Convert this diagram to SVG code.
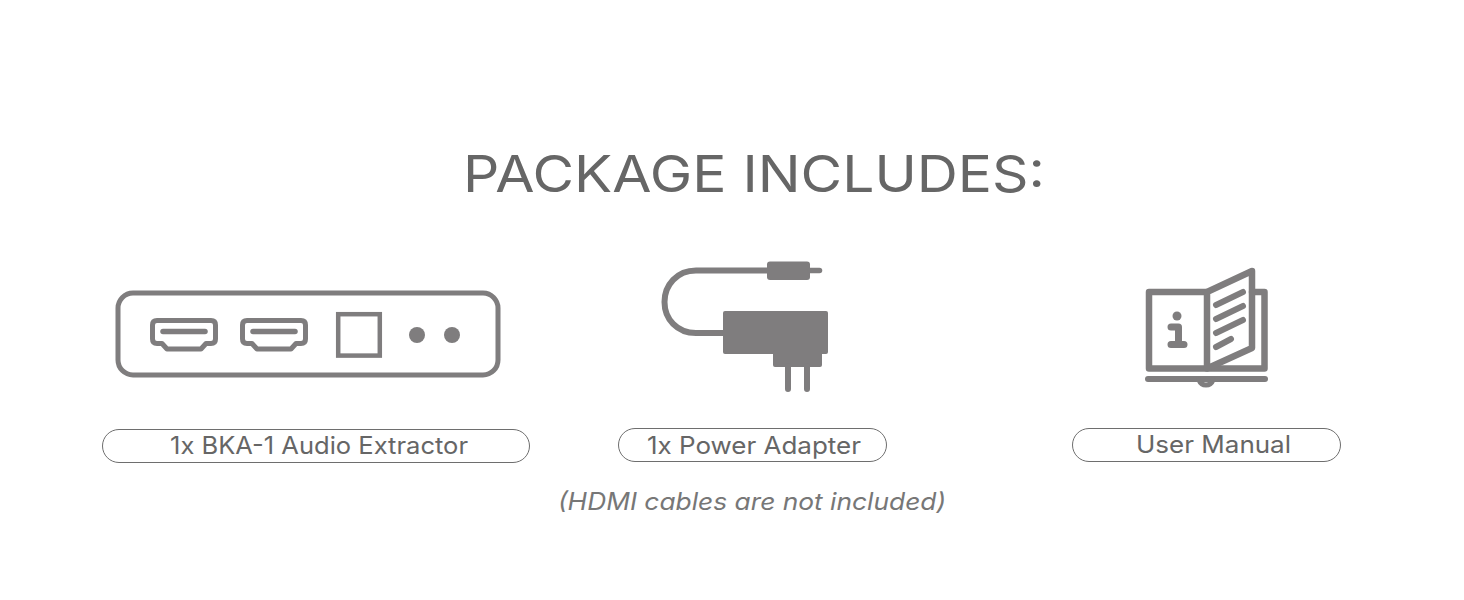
<svg xmlns="http://www.w3.org/2000/svg" width="1464" height="600" viewBox="0 0 1464 600">
<style>
.t{font-family:"Inter","Liberation Sans",sans-serif;fill:#666666}
.l{font-size:24px}
.n{font-style:italic;fill:#777777}
.pill{fill:#fff;stroke:#6e6e6e;stroke-width:1}
.s{fill:none;stroke:#7f7d7e;stroke-linejoin:round;stroke-linecap:round}
.f{fill:#7f7d7e}
</style>
<rect width="1464" height="600" fill="#fff"/>
<text id="title" class="t" x="463" y="192" font-size="51" textLength="582" lengthAdjust="spacingAndGlyphs">PACKAGE INCLUDES:</text>
<g id="extractor">
<rect class="s" x="118" y="293" width="380" height="82" rx="15" stroke-width="5"/>
<path id="h1" class="s" stroke-width="5" d="M157 320.500H211Q215.500 320.500 215.500 325V339Q215.500 343.500 211 343.500H206L201 349H167L162 343.500H157Q152.500 343.500 152.500 339V325Q152.500 320.500 157 320.500Z"/>
<path class="s" stroke-width="5.500" d="M163 331.500H205"/>
<path id="h2" class="s" stroke-width="5" d="M247 320.500H301Q305.500 320.500 305.500 325V339Q305.500 343.500 301 343.500H296L291 349H257L252 343.500H247Q242.500 343.500 242.500 339V325Q242.500 320.500 247 320.500Z"/>
<path class="s" stroke-width="5.500" d="M253 331.500H295"/>
<rect x="338.200" y="314.200" width="41.600" height="41.400" fill="none" stroke="#7f7d7e" stroke-width="4.500"/>
<circle class="f" cx="417" cy="335" r="8"/>
<circle class="f" cx="452" cy="335" r="8"/>
</g>
<g id="adapter">
<path class="s" stroke-width="6" d="M768 270.500H696C677 270.500 664.500 285 664.500 302C664.500 319 677 333 696 333H725"/>
<rect class="f" x="767" y="261.500" width="43" height="18.500" rx="3"/>
<path class="s" stroke-width="5.500" d="M810 270.500H819.500"/>
<rect class="f" x="723" y="311" width="105" height="43" rx="2"/>
<rect class="f" x="773" y="350" width="49" height="17" rx="2"/>
<path class="s" stroke-width="6" d="M788 366V389M807 366V389"/>
</g>
<g id="manual">
<path class="s" stroke-width="6.500" d="M1206 292H1149V368.500H1264.500V292H1252"/>
<path class="s" stroke-width="6.500" d="M1207 292V368.500L1252 348V271Z"/>
<path class="s" stroke-width="6" d="M1216 305L1243 292M1216 319L1243 306M1216 333L1243 320M1216 347L1231 339"/>
<path class="s" stroke-width="6" d="M1148 379H1265"/>
<path class="s" stroke-width="5" d="M1199 380Q1201 385 1206 385Q1211 385 1213 380"/>
<circle class="f" cx="1177" cy="316" r="4.500"/>
<path class="s" stroke-width="7" d="M1171 327H1178.500V344.500M1171 344.500H1184"/>
</g>
<g id="label1">
<rect class="pill" x="102.500" y="429.500" width="427" height="33" rx="16.500"/>
<text class="t l" x="170" y="454" textLength="298" lengthAdjust="spacingAndGlyphs">1x BKA-1 Audio Extractor</text>
</g>
<g id="label2">
<rect class="pill" x="618.500" y="428.500" width="268" height="33" rx="16.500"/>
<text class="t l" x="647" y="454" textLength="214" lengthAdjust="spacingAndGlyphs">1x Power Adapter</text>
</g>
<g id="label3">
<rect class="pill" x="1072.500" y="428.500" width="268" height="33" rx="16.500"/>
<text class="t l" x="1136" y="453" textLength="155" lengthAdjust="spacingAndGlyphs">User Manual</text>
</g>
<text id="note" class="t l n" x="558" y="510" textLength="388" lengthAdjust="spacingAndGlyphs">(HDMI cables are not included)</text>
</svg>
